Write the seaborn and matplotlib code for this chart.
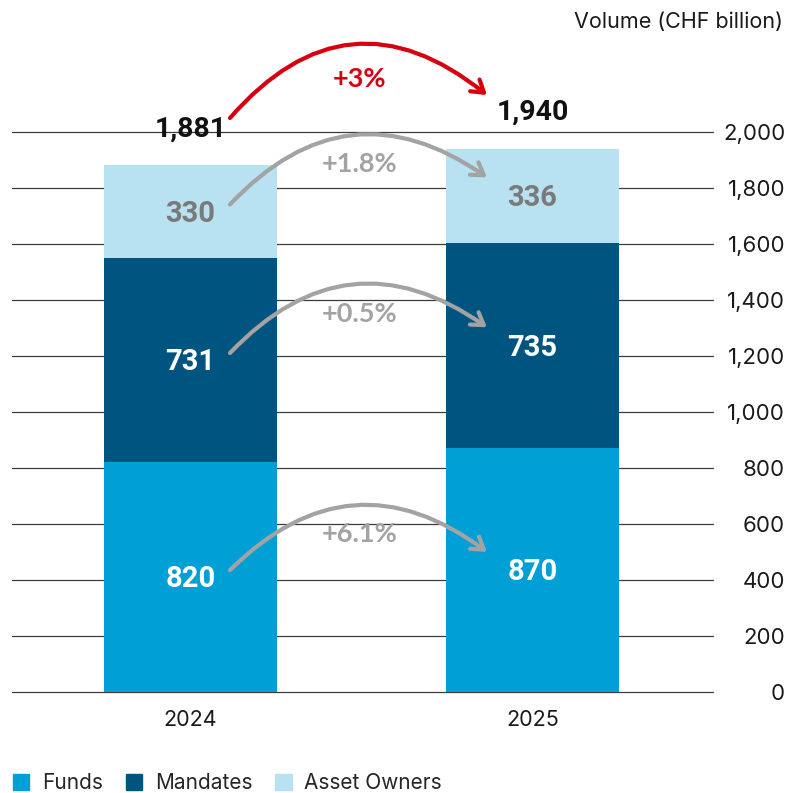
import pandas as pd
import seaborn as sns
import matplotlib.pyplot as plt
from matplotlib.patches import Patch

# data
years = ["2024", "2025"]
funds = [820, 870]
mandates = [731, 735]
owners = [330, 336]
totals = [1881, 1940]
seg_changes = ["+6.1%", "+0.5%", "+1.8%"]
total_change = "+3%"
y_ticks = [0, 200, 400, 600, 800, 1000, 1200, 1400, 1600, 1800, 2000]

c_funds = "#009fd6"
c_mand = "#005580"
c_own = "#b8e2f2"
c_grey = "#a3a3a3"
c_red = "#d7000f"

sns.set_theme(style="white")
plt.rcParams["font.family"] = ["Inter", "DejaVu Sans"]
num_font = ["Roboto", "DejaVu Sans"]
pct_font = ["Lato", "DejaVu Sans"]

df = pd.DataFrame({"year": years, "funds": funds, "mandates": mandates, "owners": owners})
df["lvl1"] = df["funds"]
df["lvl2"] = df["funds"] + df["mandates"]
df["lvl3"] = df["lvl2"] + df["owners"]

fig = plt.figure(figsize=(7.87, 7.93), dpi=100)
ax = fig.add_axes([0.0152, 0.1274, 0.8908, 0.7061])

# stacked bars: draw tallest first
bw = 0.506
for col, c in [("lvl3", c_own), ("lvl2", c_mand), ("lvl1", c_funds)]:
    sns.barplot(data=df, x="year", y=col, color=c, width=bw, saturation=1,
                linewidth=0, ax=ax, zorder=3)

ax.set_xlim(-0.522, 1.528)
ax.set_ylim(0, 2000)
ax.set_yticks(y_ticks)
ax.set_yticklabels([f"{v:,}" for v in y_ticks])
ax.yaxis.tick_right()
ax.grid(axis="y", color="#3c3c3c", linewidth=0.9, zorder=0)
ax.grid(axis="x", visible=False)
for gl in ax.get_ygridlines():
    gl.set_clip_on(False)
for s in ax.spines.values():
    s.set_visible(False)
ax.tick_params(axis="y", length=0, pad=52, labelsize=16, labelcolor="#1a1a1a")
for lab in ax.get_yticklabels():
    lab.set_horizontalalignment("right")
ax.tick_params(axis="x", length=0, pad=13, labelsize=15.5, labelcolor="#1a1a1a")
ax.set_xlabel("")
ax.set_ylabel("")

# segment labels
mids = []
for i in range(2):
    m = [funds[i] / 2, funds[i] + mandates[i] / 2, funds[i] + mandates[i] + owners[i] / 2]
    mids.append(m)
    vals = [funds[i], mandates[i], owners[i]]
    cols = ["white", "white", "#7a7a7a"]
    for v, y, tc in zip(vals, m, cols):
        ax.text(i, y - 8, f"{v:,}", ha="center", va="center", fontsize=21,
                fontweight="bold", color=tc, zorder=5, family=num_font)
    ax.text(i, totals[i] + 130, f"{totals[i]:,}", ha="center", va="center",
            fontsize=20.5, fontweight="bold", color="#111111", zorder=5,
            family=num_font)

# growth arrows
x0, x1, xm = 0.1155, 0.867, 0.4956
arrow = "->,head_length=0.7,head_width=0.45"
for k in range(3):
    yl, yr = mids[0][k] + 25, mids[1][k] + 65
    ax.annotate("", xy=(x1, yr), xytext=(x0, yl),
                arrowprops=dict(arrowstyle=arrow, color=c_grey, lw=3,
                                shrinkA=0, shrinkB=0,
                                connectionstyle="arc3,rad=-0.43"),
                annotation_clip=False, zorder=6)
    ax.text(xm, (mids[0][k] + mids[1][k]) / 2 + 140, seg_changes[k], ha="center",
            va="center", fontsize=19.5, fontweight="bold", color=c_grey, zorder=6,
            family=pct_font)

ax.annotate("", xy=(x1, totals[1] + 192), xytext=(x0, totals[0] + 169),
            arrowprops=dict(arrowstyle=arrow, color=c_red, lw=3,
                            shrinkA=0, shrinkB=0,
                            connectionstyle="arc3,rad=-0.48"),
            annotation_clip=False, zorder=6)
ax.text(xm, 2190, total_change, ha="center", va="center", fontsize=19.5,
        fontweight="bold", color=c_red, zorder=6, clip_on=False,
        family=pct_font)

fig.text(0.995, 0.972, "Volume (CHF billion)", ha="right", va="center",
         fontsize=15.5, color="#1a1a1a")

handles = [Patch(color=c_funds, label="Funds"),
           Patch(color=c_mand, label="Mandates"),
           Patch(color=c_own, label="Asset Owners")]
fig.legend(handles=handles, loc="center left", bbox_to_anchor=(0.016, 0.012),
           ncol=3, frameon=False, fontsize=15, handlelength=0.8, handleheight=0.8,
           handletextpad=0.6, columnspacing=1.1, borderaxespad=0, borderpad=0)

plt.savefig("out.png", dpi=100)
